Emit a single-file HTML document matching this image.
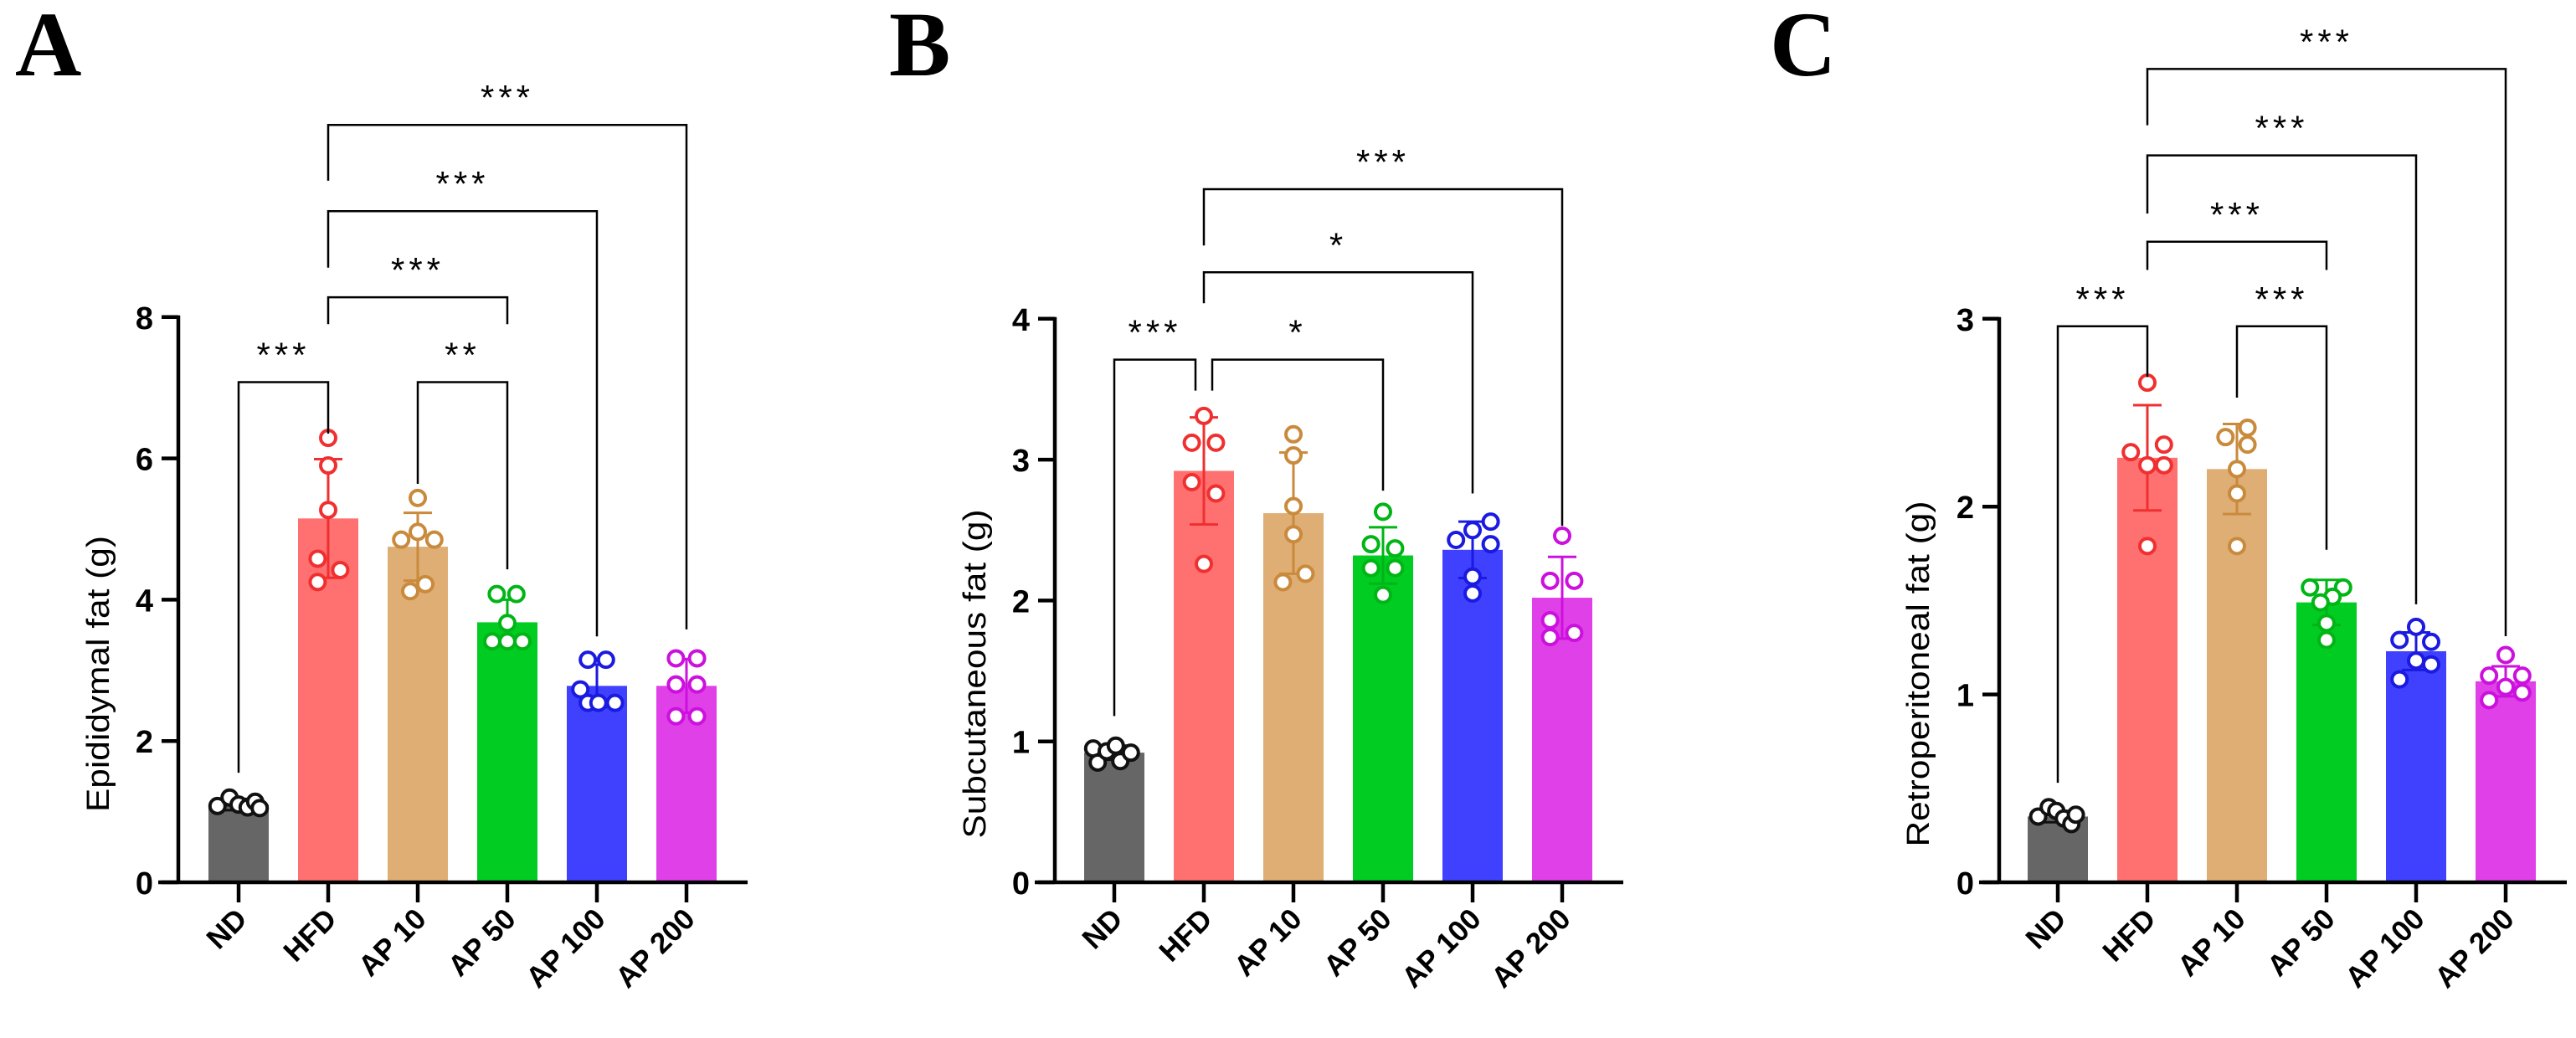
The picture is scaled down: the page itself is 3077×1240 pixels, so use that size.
<!DOCTYPE html>
<html><head><meta charset="utf-8">
<style>
html,body{margin:0;padding:0;background:#fff;}
svg{display:block;font-family:"Liberation Sans",Arial,sans-serif;}
</style></head>
<body>
<svg id="fig" width="3077" height="1240" viewBox="0 0 3077 1240" xmlns="http://www.w3.org/2000/svg"></svg>
<script>
const categories = ["ND","HFD","AP 10","AP 50","AP 100","AP 200"];
const barFill = ["#666666","#ff7070","#dfae74","#00cc22","#4040ff","#e040e8"];
const ptStroke = ["#111111","#f03030","#c98a3c","#00b515","#1a1ae0","#cc10dd"];

// Panel A: Epididymal fat
const meansA = [1.1,5.15,4.75,3.68,2.78,2.78];
const sdA = [0.08,0.84,0.48,0.32,0.3,0.38];
const ptsA = [[1.08,1.2,1.1,1.06,1.14,1.05],[6.29,5.9,5.27,4.58,4.42,4.25],[5.44,4.96,4.85,4.85,4.22,4.12],[4.08,4.08,3.67,3.41,3.41,3.41],[3.15,3.15,2.73,2.54,2.54,2.54],[3.17,3.17,2.8,2.8,2.35,2.35]];
const jitA = [[-0.7,-0.3,0,0.3,0.55,0.7],[0,0,0,-0.35,0.4,-0.35],[0,0,-0.55,0.55,0.25,-0.25],[-0.35,0.3,0,-0.5,0.5,0],[-0.3,0.3,-0.55,-0.3,0.05,0.6],[-0.35,0.35,-0.35,0.35,-0.35,0.35]];
const ticksA = [0,2,4,6,8];
// brackets: [from, to, topValue, fromLegValue, toLegValue, label]
const bracketsA = [[0,1,7.08,1.55,6.35,"***"],[2,3,7.08,5.64,4.43,"**"],[1,3,8.28,7.9,7.9,"***"],[1,4,9.5,8.7,3.48,"***"],[1,5,10.72,9.93,3.58,"***"]];

// Panel B: Subcutaneous fat
const meansB = [0.92,2.92,2.62,2.32,2.36,2.02];
const sdB = [0.05,0.38,0.43,0.2,0.2,0.29];
const ptsB = [[0.95,0.85,0.93,0.97,0.86,0.92],[3.31,3.12,3.12,2.84,2.76,2.26],[3.18,3.03,2.67,2.47,2.13,2.19],[2.63,2.4,2.37,2.23,2.23,2.04],[2.56,2.5,2.43,2.4,2.17,2.05],[2.46,2.14,2.14,1.86,1.77,1.74]];
const jitB = [[-0.7,-0.55,-0.25,0.05,0.2,0.55],[0,-0.4,0.4,-0.4,0.4,0],[0,0,0,0,-0.35,0.4],[0,-0.4,0.4,-0.4,0.4,0],[0.6,0,-0.55,0.6,0,0],[0,-0.4,0.4,-0.4,0.4,-0.4]];
const ticksB = [0,1,2,3,4];
const bracketsB = [[0,1,3.71,1.18,3.49,"***"],[1,3,3.71,3.49,2.78,"*"],[1,4,4.33,4.11,2.76,"*"],[1,5,4.92,4.52,2.53,"***"]];

// Panel C: Retroperitoneal fat
const meansC = [0.35,2.26,2.2,1.49,1.23,1.07];
const sdC = [0.03,0.28,0.24,0.12,0.1,0.08];
const ptsC = [[0.35,0.4,0.38,0.34,0.31,0.36],[2.66,2.29,2.33,2.22,2.22,1.79],[2.37,2.42,2.33,2.2,2.07,1.79],[1.57,1.57,1.52,1.49,1.38,1.29],[1.36,1.29,1.28,1.18,1.16,1.08],[1.21,1.1,1.1,1.04,1.01,0.97]];
const jitC = [[-0.65,-0.3,-0.05,0.2,0.45,0.6],[0,-0.55,0.55,0,0.55,0],[-0.38,0.35,0.35,0,0,0],[-0.55,0.55,0.2,-0.2,0,0],[0,-0.55,0.5,0,0.5,-0.55],[0,-0.55,0.55,0,0.55,-0.55]];
const ticksC = [0,1,2,3];
const bracketsC = [[0,1,2.96,0.53,2.69,"***"],[2,3,2.96,2.58,1.77,"***"],[1,3,3.41,3.26,3.26,"***"],[1,4,3.87,3.56,1.48,"***"],[1,5,4.33,4.03,1.31,"***"]];

const NS = "http://www.w3.org/2000/svg";
const svg = document.getElementById("fig");
function mk(tag, attrs, parent){
  const e = document.createElementNS(NS, tag);
  for (const k in attrs) e.setAttribute(k, attrs[k]);
  (parent||svg).appendChild(e);
  return e;
}

function panel(cfg){
  const g = mk("g",{});
  
  
  const y0 = 1054, ymaxV = cfg.ticks[cfg.ticks.length-1];
  const yS = v => y0 - v * cfg.unit;
  const xS = i => cfg.nd + i * 107;
  const bw = 72;
  const L = mk("text",{x:cfg.letterX,y:90,"font-family":"Liberation Serif,serif","font-weight":"bold","font-size":110,fill:"#000"},g);
  L.textContent = cfg.letter;
  
  
  cfg.means.forEach((m,i)=>{
    const r = mk("rect",{x:xS(i)-bw/2,y:yS(m),width:bw,height:y0-yS(m),fill:barFill[i]},g);
    
    
  });
  cfg.means.forEach((m,i)=>{
    const eg = mk("g",{stroke:ptStroke[i],"stroke-width":3},g);
    
    
    const x = xS(i), t = yS(m+cfg.sd[i]), b = yS(m-cfg.sd[i]);
    mk("line",{x1:x,x2:x,y1:t,y2:b},eg);
    mk("line",{x1:x-17,x2:x+17,y1:t,y2:t},eg);
    mk("line",{x1:x-17,x2:x+17,y1:b,y2:b},eg);
  });
  cfg.pts.forEach((arr,i)=>{
    arr.forEach((v,j)=>{
      const c = mk("circle",{cx:xS(i)+cfg.jit[i][j]*bw*0.5,cy:yS(v),r:9,fill:"#fff",stroke:ptStroke[i],"stroke-width":4},g);
      
      
    });
  });
  const ax = mk("g",{stroke:"#000","stroke-width":4.5,fill:"none"},g);
  
  
  mk("line",{x1:cfg.axisX,x2:cfg.axisX,y1:yS(ymaxV)-2,y2:y0+2},ax);
  mk("line",{x1:cfg.axisX-24,x2:xS(5)+73,y1:y0,y2:y0},ax);
  cfg.ticks.forEach(t=>{
    mk("line",{x1:cfg.axisX-20,x2:cfg.axisX,y1:yS(t),y2:yS(t)},ax);
    const tx = mk("text",{x:cfg.axisX-30,y:yS(t)+14,"text-anchor":"end","font-weight":"bold","font-size":38,fill:"#000"},g);
    tx.textContent = t;
    
    
  });
  categories.forEach((c,i)=>{
    mk("line",{x1:xS(i),x2:xS(i),y1:y0,y2:y0+24},ax);
    const tx = mk("text",{transform:`translate(${xS(i)+12},${y0+46}) rotate(-45)`,"text-anchor":"end","font-weight":"bold","font-size":35,fill:"#000"},g);
    tx.textContent = c;
    
    
  });
  const yt = mk("text",{transform:`translate(${cfg.titleX},805) rotate(-90)`,"text-anchor":"middle","font-size":38,fill:"#000",textLength:cfg.titleLen,lengthAdjust:"spacingAndGlyphs"},g);
  yt.textContent = cfg.title;
  
  
  cfg.brackets.forEach(b=>{
    const [a,c,top,la,lc,lab] = b;
    let xa = xS(a), xc = xS(c);
    if (cfg.splitHFD && a===1 && c===3) xa += 10;
    if (cfg.splitHFD && a===0 && c===1) xc -= 10;
    const bg = mk("g",{},g);
    
    
    mk("polyline",{points:`${xa},${yS(la)} ${xa},${yS(top)} ${xc},${yS(top)} ${xc},${yS(lc)}`,fill:"none",stroke:"#000","stroke-width":2.5},bg);
    const st = mk("text",{x:(xa+xc)/2,y:yS(top)-18,"text-anchor":"middle","font-size":42,"letter-spacing":5,fill:"#000"},bg);
    st.textContent = lab;
  });
}

panel({name:"panel-a-epididymal",letter:"A",letterX:18,axisX:213,nd:285,unit:84.4,means:meansA,sd:sdA,pts:ptsA,jit:jitA,ticks:ticksA,brackets:bracketsA,title:"Epididymal fat (g)",titleX:130,titleLen:330});
panel({name:"panel-b-subcutaneous",letter:"B",letterX:1062,axisX:1260,nd:1331,unit:168.3,means:meansB,sd:sdB,pts:ptsB,jit:jitB,ticks:ticksB,brackets:bracketsB,title:"Subcutaneous fat (g)",titleX:1177,titleLen:393,splitHFD:true});
panel({name:"panel-c-retroperitoneal",letter:"C",letterX:2114,axisX:2388,nd:2458,unit:224.4,means:meansC,sd:sdC,pts:ptsC,jit:jitC,ticks:ticksC,brackets:bracketsC,title:"Retroperitoneal fat (g)",titleX:2304,titleLen:413});
</script>
</body></html>
